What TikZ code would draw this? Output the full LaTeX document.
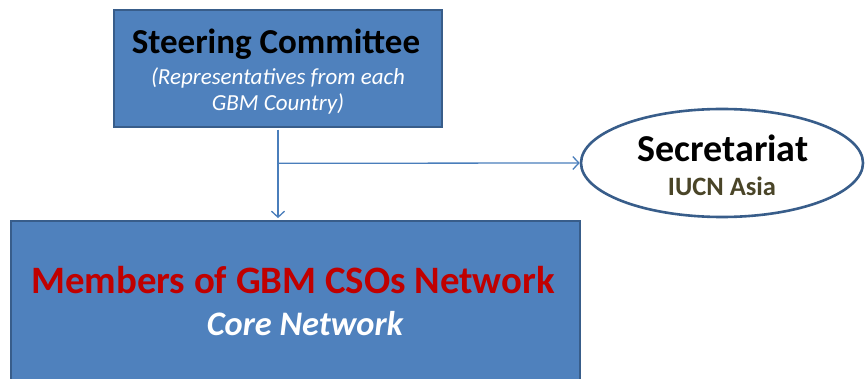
\documentclass[tikz,border=0pt]{standalone}
\usepackage{fontspec}
\setmainfont{Carlito}
\usetikzlibrary{shapes.geometric,arrows.meta}
\definecolor{boxfill}{HTML}{4F81BD}
\definecolor{boxline}{HTML}{385D8A}
\definecolor{connline}{HTML}{4A7EBB}
\definecolor{darkred}{HTML}{C00000}
\definecolor{olive}{HTML}{4A4528}
\tikzset{
  bluebox/.style={draw=boxline, line width=2.6pt, fill=boxfill, inner sep=0pt},
  ellbox/.style={ellipse, draw=boxline, line width=2.6pt, fill=white, inner sep=0pt},
  conn/.style={draw=connline, line width=1.3pt, -{Straight Barb[length=6pt,width=13pt,line width=1.3pt]}},
  txt/.style={inner sep=0pt, align=center}
}
\begin{document}
\begin{tikzpicture}[x=1pt,y=-1pt]
\useasboundingbox (0,0) rectangle (866,379);
\clip (0,0) rectangle (866,379);
% boxes
\node[bluebox, minimum width=328pt, minimum height=117pt] (sc) at (278,68.5) {};
\node[bluebox, minimum width=569pt, minimum height=200pt] (mem) at (295.5,321) {};
\node[ellbox, minimum width=282pt, minimum height=108pt] (sec) at (722,163) {};
% texts
\node[txt, font=\bfseries\fontsize{35}{40}\selectfont] (sct) at (276,44) {Steering Committee};
\node[txt, text=white, font=\itshape\fontsize{23}{25.5}\selectfont] (scs) at (278,91) {(Representatives from each\\GBM Country)};
\node[txt, font=\bfseries\fontsize{38}{42}\selectfont] (sect) at (723,148) {Secretariat};
\node[txt, text=olive, font=\bfseries\fontsize{26.5}{30}\selectfont] (secs) at (722,186) {IUCN Asia};
\node[txt, text=darkred, font=\bfseries\fontsize{38.8}{44}\selectfont] (memt) at (293,280) {Members of GBM CSOs Network};
\node[txt, text=white, font=\bfseries\itshape\fontsize{34.4}{40}\selectfont] (mems) at (305,324) {Core Network};
% connectors
\coordinate (j) at ([yshift=-35pt]sc.south);
\draw[conn] ([yshift=-1.3pt]sc.south) -- ([yshift=1.6pt]sc.south |- mem.north);
\draw[conn] (j) -- (sec.west);
\end{tikzpicture}
\end{document}
